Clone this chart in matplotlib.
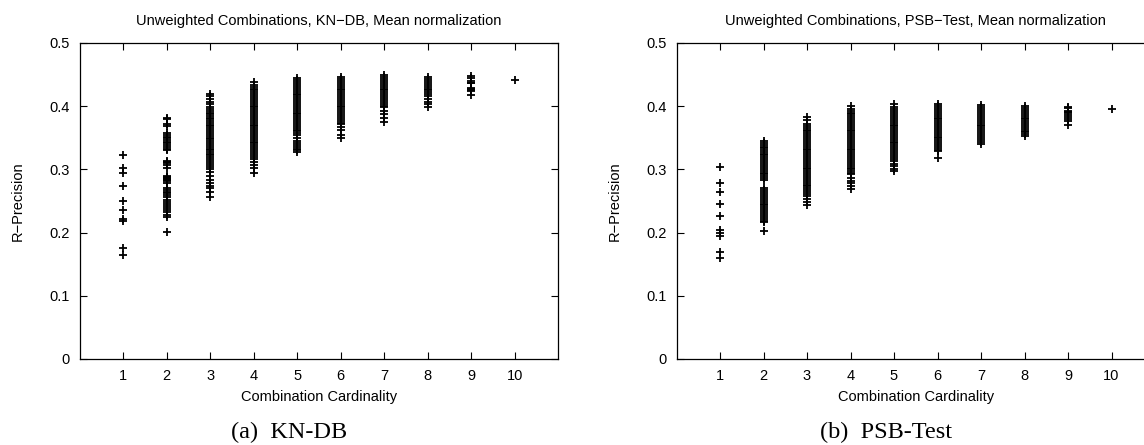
import matplotlib
matplotlib.use("Agg")
import matplotlib.pyplot as plt

plt.rcParams['font.family'] = ['Liberation Sans', 'DejaVu Sans']

cardinalities = [1, 2, 3, 4, 5, 6, 7, 8, 9, 10]
xtick_labels = ['1', '2', '3', '4', '5', '6', '7', '8', '9', '10']
ytick_values = [0.0, 0.1, 0.2, 0.3, 0.4, 0.5]
ytick_labels = ['0', '0.1', '0.2', '0.3', '0.4', '0.5']

# ---- KN-DB ----
kn_c1 = [0.322, 0.302, 0.295, 0.273, 0.250, 0.236, 0.222, 0.218, 0.175, 0.165]
kn_c2 = [0.382, 0.379, 0.372, 0.369, 0.357, 0.354, 0.352, 0.349, 0.346, 0.344, 0.341,
         0.338, 0.335, 0.332, 0.331, 0.314, 0.312, 0.310, 0.307, 0.302, 0.290, 0.288,
         0.287, 0.285, 0.283, 0.281, 0.278, 0.271, 0.268, 0.265, 0.262, 0.259, 0.256,
         0.252, 0.249, 0.246, 0.242, 0.239, 0.236, 0.232, 0.228, 0.224, 0.201]
kn_c3 = [0.420, 0.416, 0.412, 0.407, 0.403, 0.399, 0.396, 0.393, 0.390, 0.387, 0.385,
         0.382, 0.379, 0.376, 0.373, 0.370, 0.368, 0.365, 0.362, 0.359, 0.356, 0.353,
         0.350, 0.348, 0.345, 0.342, 0.339, 0.336, 0.333, 0.330, 0.328, 0.325, 0.322,
         0.319, 0.316, 0.313, 0.310, 0.307, 0.304, 0.301, 0.296, 0.290, 0.284, 0.279,
         0.274, 0.270, 0.265, 0.256]
kn_c4 = [0.438, 0.434, 0.430, 0.427, 0.425, 0.422, 0.419, 0.416, 0.413, 0.410, 0.407,
         0.404, 0.401, 0.398, 0.395, 0.392, 0.389, 0.386, 0.383, 0.380, 0.377, 0.374,
         0.371, 0.368, 0.365, 0.362, 0.359, 0.356, 0.353, 0.350, 0.347, 0.344, 0.341,
         0.338, 0.335, 0.332, 0.329, 0.326, 0.323, 0.320, 0.317, 0.312, 0.307, 0.302,
         0.295]
kn_c5 = [0.444, 0.441, 0.438, 0.435, 0.432, 0.429, 0.426, 0.423, 0.420, 0.417, 0.414,
         0.411, 0.408, 0.405, 0.402, 0.399, 0.396, 0.393, 0.390, 0.387, 0.384, 0.381,
         0.378, 0.375, 0.372, 0.369, 0.366, 0.363, 0.360, 0.357, 0.354, 0.349, 0.345,
         0.342, 0.339, 0.336, 0.333, 0.330, 0.327]
kn_c6 = [0.446, 0.443, 0.440, 0.437, 0.434, 0.431, 0.428, 0.425, 0.422, 0.419, 0.416,
         0.413, 0.410, 0.407, 0.404, 0.401, 0.398, 0.395, 0.392, 0.389, 0.386, 0.383,
         0.380, 0.377, 0.374, 0.372, 0.367, 0.362, 0.355, 0.349]
kn_c7 = [0.449, 0.446, 0.443, 0.440, 0.437, 0.434, 0.431, 0.428, 0.425, 0.422, 0.419,
         0.416, 0.413, 0.410, 0.407, 0.404, 0.401, 0.398, 0.392, 0.387, 0.381, 0.375]
kn_c8 = [0.446, 0.443, 0.440, 0.437, 0.434, 0.431, 0.428, 0.425, 0.422, 0.420, 0.416,
         0.412, 0.407, 0.404, 0.399]
kn_c9 = [0.447, 0.445, 0.440, 0.437, 0.436, 0.429, 0.428, 0.425, 0.424, 0.417]
kn_c10 = [0.441]

# ---- PSB-Test ----
ps_c1 = [0.304, 0.278, 0.264, 0.245, 0.227, 0.204, 0.200, 0.195, 0.170, 0.160]
ps_c2 = [0.345, 0.342, 0.339, 0.336, 0.334, 0.331, 0.328, 0.325, 0.322, 0.319, 0.316,
         0.313, 0.310, 0.307, 0.304, 0.301, 0.298, 0.295, 0.292, 0.289, 0.286, 0.284,
         0.270, 0.267, 0.264, 0.261, 0.258, 0.255, 0.252, 0.249, 0.246, 0.243, 0.240,
         0.237, 0.234, 0.231, 0.228, 0.225, 0.222, 0.219, 0.216, 0.203]
ps_c3 = [0.383, 0.378, 0.372, 0.369, 0.366, 0.363, 0.360, 0.357, 0.354, 0.351, 0.348,
         0.345, 0.342, 0.339, 0.336, 0.333, 0.330, 0.327, 0.324, 0.321, 0.318, 0.315,
         0.312, 0.309, 0.306, 0.303, 0.300, 0.297, 0.294, 0.291, 0.288, 0.285, 0.282,
         0.279, 0.276, 0.273, 0.270, 0.267, 0.264, 0.261, 0.258, 0.253, 0.248, 0.243]
ps_c4 = [0.400, 0.396, 0.393, 0.390, 0.387, 0.384, 0.381, 0.378, 0.375, 0.372, 0.369,
         0.366, 0.363, 0.360, 0.357, 0.354, 0.351, 0.348, 0.345, 0.342, 0.339, 0.336,
         0.333, 0.330, 0.327, 0.324, 0.321, 0.318, 0.315, 0.312, 0.309, 0.306, 0.303,
         0.300, 0.297, 0.294, 0.292, 0.287, 0.282, 0.278, 0.273, 0.269]
ps_c5 = [0.403, 0.398, 0.395, 0.392, 0.389, 0.386, 0.383, 0.380, 0.377, 0.374, 0.371,
         0.368, 0.365, 0.362, 0.359, 0.356, 0.353, 0.350, 0.347, 0.344, 0.341, 0.338,
         0.335, 0.332, 0.329, 0.326, 0.323, 0.320, 0.317, 0.313, 0.309, 0.305, 0.301,
         0.297]
ps_c6 = [0.404, 0.400, 0.397, 0.394, 0.391, 0.388, 0.385, 0.382, 0.379, 0.376, 0.373,
         0.370, 0.367, 0.364, 0.361, 0.358, 0.355, 0.352, 0.349, 0.346, 0.343, 0.340,
         0.337, 0.334, 0.331, 0.329, 0.318]
ps_c7 = [0.402, 0.398, 0.395, 0.392, 0.389, 0.386, 0.383, 0.380, 0.377, 0.374, 0.371,
         0.368, 0.365, 0.362, 0.359, 0.356, 0.353, 0.350, 0.347, 0.343, 0.340]
ps_c8 = [0.400, 0.397, 0.394, 0.391, 0.388, 0.385, 0.382, 0.379, 0.376, 0.373, 0.370,
         0.367, 0.364, 0.361, 0.359, 0.356, 0.353]
ps_c9 = [0.399, 0.397, 0.393, 0.391, 0.389, 0.386, 0.383, 0.380, 0.377, 0.371]
ps_c10 = [0.395]

kn_series = [kn_c1, kn_c2, kn_c3, kn_c4, kn_c5, kn_c6, kn_c7, kn_c8, kn_c9, kn_c10]
ps_series = [ps_c1, ps_c2, ps_c3, ps_c4, ps_c5, ps_c6, ps_c7, ps_c8, ps_c9, ps_c10]

titles = ['Unweighted Combinations, KN\u2212DB, Mean normalization',
          'Unweighted Combinations, PSB\u2212Test, Mean normalization']
captions = ['(a)  KN-DB', '(b)  PSB-Test']

W, H = 1144, 445
fig = plt.figure(figsize=(W / 100, H / 100), dpi=100)

ax_w = 478.5 / W
ax_h = 316 / H
ax_b = (H - 359) / H
lefts = [79.8 / W, 676.5 / W]
caption_x = [289 / W, 886 / W]
FS = 10.5

for i, (series, title) in enumerate(zip([kn_series, ps_series], titles)):
    ax = fig.add_axes([lefts[i], ax_b, ax_w, ax_h])
    for k, vals in zip(cardinalities, series):
        ax.plot([k] * len(vals), vals, linestyle='none', marker='+',
                markersize=6, markeredgewidth=1.3, color='black')
    ax.set_xlim(0, 11)
    ax.set_ylim(0, 0.5)
    ax.set_xticks(cardinalities)
    ax.set_xticklabels(xtick_labels)
    ax.set_yticks(ytick_values)
    ax.set_yticklabels(ytick_labels)
    ax.tick_params(direction='in', length=5, width=0.8, top=True, right=True,
                   labelsize=FS)
    ax.tick_params(axis='x', pad=7.5)
    ax.tick_params(axis='y', pad=7)
    for s in ax.spines.values():
        s.set_linewidth(0.9)
    ax.text(0.5, (359 - 21) / 316, title, transform=ax.transAxes,
            ha='center', va='center', fontsize=FS)
    ax.set_xlabel('Combination Cardinality', fontsize=FS)
    ax.xaxis.set_label_coords(0.5, (359 - 390) / 316)
    ax.set_ylabel('R\u2212Precision', fontsize=FS)
    ax.yaxis.set_label_coords((25 - 79.8) / 478.5, 0.5)
    fig.text(caption_x[i], (H - 432) / H, captions[i], ha='center', va='center',
             fontsize=17.5, family=['Liberation Serif', 'DejaVu Serif'])

fig.savefig('out.png', dpi=100)
